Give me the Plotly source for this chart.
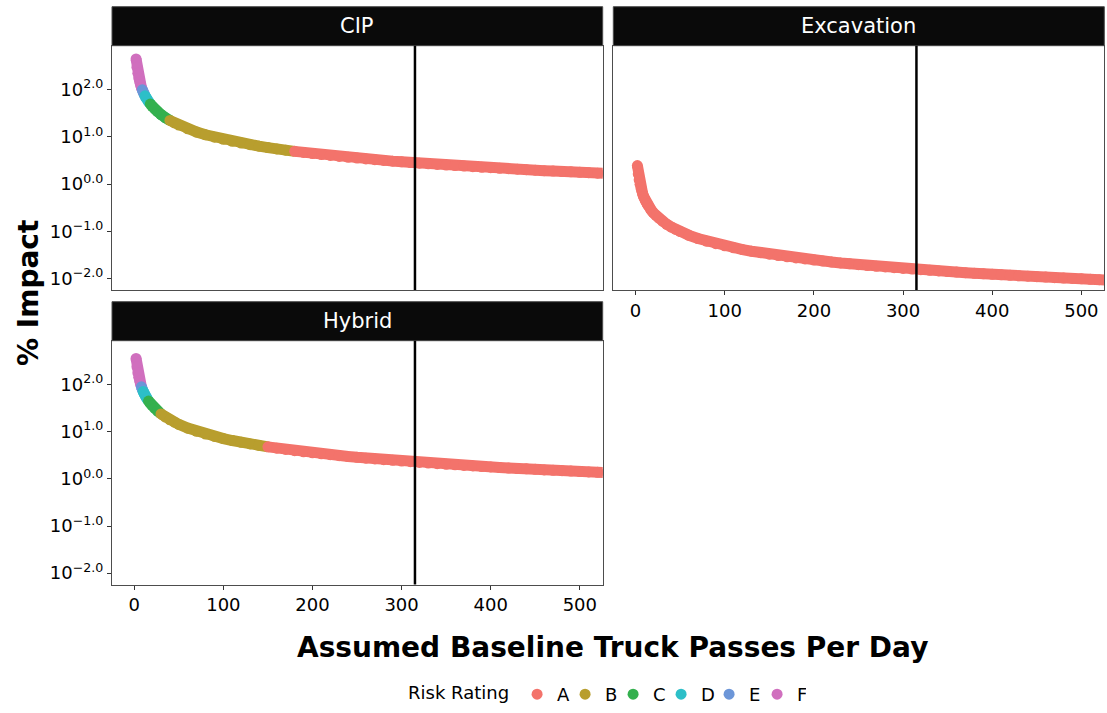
import plotly.graph_objects as go

# ---------------- data ----------------
truck_passes = [2, 3, 4, 5, 6, 7, 8, 9, 10, 11, 12, 13, 14,
                16, 18, 20, 23, 26, 30, 35, 40, 45, 50,
                60, 70, 80, 90, 100, 110, 120, 130, 140, 150,
                160, 170, 180, 190, 200, 210, 220, 230, 240, 250,
                260, 270, 280, 290, 300, 310, 320, 330, 340, 350,
                360, 370, 380, 390, 400, 410, 420, 430, 440, 450,
                460, 470, 480, 490, 500, 510, 520, 530]

cip_impact = [445, 297, 222.5, 178, 148.3, 127.1, 111.3, 98.9, 89, 80.9, 74.2, 68.5, 63.6,
              55.6, 49.4, 44.5, 38.7, 34.2, 29.7, 25.4, 22.3, 19.8, 17.8,
              14.8, 12.7, 11.1, 9.89, 8.9, 8.09, 7.42, 6.85, 6.36, 5.93,
              5.56, 5.24, 4.94, 4.68, 4.45, 4.24, 4.05, 3.87, 3.71, 3.56,
              3.42, 3.30, 3.18, 3.07, 2.97, 2.87, 2.78, 2.70, 2.62, 2.54,
              2.47, 2.41, 2.34, 2.28, 2.23, 2.17, 2.12, 2.07, 2.02, 1.98,
              1.93, 1.89, 1.85, 1.82, 1.78, 1.75, 1.71, 1.68]
cip_rating = ["F"] * 7 + ["E"] * 3 + ["D"] * 4 + ["C"] * 6 + ["B"] * 15 + ["A"] * 36

exc_impact = [2.475, 1.65, 1.2375, 0.99, 0.825, 0.707, 0.619, 0.55, 0.495, 0.45, 0.4125, 0.381, 0.354,
              0.309, 0.275, 0.2475, 0.215, 0.190, 0.165, 0.141, 0.124, 0.110, 0.099,
              0.0825, 0.0707, 0.0619, 0.055, 0.0495, 0.045, 0.0413, 0.0381, 0.0354, 0.033,
              0.0309, 0.0291, 0.0275, 0.0261, 0.0248, 0.0236, 0.0225, 0.0215, 0.0206, 0.0198,
              0.0190, 0.0183, 0.0177, 0.0171, 0.0165, 0.0160, 0.0155, 0.0150, 0.0146, 0.0141,
              0.0138, 0.0134, 0.0130, 0.0127, 0.0124, 0.0121, 0.0118, 0.0115, 0.0113, 0.0110,
              0.0108, 0.0105, 0.0103, 0.0101, 0.0099, 0.0097, 0.0095, 0.0093]
exc_rating = ["A"] * 71

hyb_impact = [357.5, 238.3, 178.8, 143, 119.2, 102.1, 89.4, 79.4, 71.5, 65, 59.6, 55, 51.1,
              44.7, 39.7, 35.75, 31.1, 27.5, 23.8, 20.4, 17.9, 15.9, 14.3,
              11.9, 10.2, 8.94, 7.94, 7.15, 6.5, 5.96, 5.5, 5.11, 4.77,
              4.47, 4.21, 3.97, 3.76, 3.58, 3.40, 3.25, 3.11, 2.98, 2.86,
              2.75, 2.65, 2.55, 2.47, 2.38, 2.31, 2.23, 2.17, 2.10, 2.04,
              1.99, 1.93, 1.88, 1.83, 1.79, 1.74, 1.70, 1.66, 1.63, 1.59,
              1.55, 1.52, 1.49, 1.46, 1.43, 1.40, 1.375, 1.35]
hyb_rating = ["F"] * 6 + ["E"] * 2 + ["D"] * 5 + ["C"] * 5 + ["B"] * 14 + ["A"] * 39

panel_names = ["CIP", "Excavation", "Hybrid"]
reference_passes = 315
rating_levels = ["A", "B", "C", "D", "E", "F"]
rating_colors = {"A": "#F3736B", "B": "#B89E2E", "C": "#34B04E", "D": "#2DBFC8",
                 "E": "#6C96D8", "F": "#D06FBE"}
y_tick_vals = [0.01, 0.1, 1, 10, 100]
y_tick_text = ["10<sup>−2.0</sup>", "10<sup>−1.0</sup>", "10<sup>0.0</sup>",
               "10<sup>1.0</sup>", "10<sup>2.0</sup>"]
x_tick_vals = [0, 100, 200, 300, 400, 500]

# ---------------- figure ----------------
W, H = 1107, 713
fig = go.Figure()

panels = [
    (cip_impact, cip_rating, "x", "y"),
    (exc_impact, exc_rating, "x2", "y2"),
    (hyb_impact, hyb_rating, "x3", "y3"),
]
MS = 11
for pi, (vals, rats, xa, ya) in enumerate(panels):
    for r in ["F", "E", "D", "C", "B", "A"]:
        idx = [i for i, rr in enumerate(rats) if rr == r]
        if not idx:
            continue
        line_idx = idx + ([idx[-1] + 1] if idx[-1] + 1 < len(rats) else [])
        fig.add_trace(go.Scatter(
            x=[truck_passes[i] for i in line_idx], y=[vals[i] for i in line_idx],
            mode="lines", line=dict(color=rating_colors[r], width=MS),
            xaxis=xa, yaxis=ya, showlegend=False, hoverinfo="skip"))
        fig.add_trace(go.Scatter(
            x=[truck_passes[i] for i in idx], y=[vals[i] for i in idx],
            mode="markers", marker=dict(color=rating_colors[r], size=MS, line=dict(width=0)),
            xaxis=xa, yaxis=ya, name=r, legendgroup=r,
            legendrank=rating_levels.index(r) + 1,
            showlegend=(pi == 0)))

def px_x(p):
    return p / W

def px_y(p):
    return (H - p) / H

left_x = [px_x(112), px_x(602.7)]
right_x = [px_x(613.3), px_x(1104.3)]
top_y = [px_y(290), px_y(45.7)]
bot_y = [px_y(584.5), px_y(340.7)]

yrange = [-2.24, 2.93]
xrange_ = [-25, 525.7]
axis_common = dict(showline=True, mirror=True, linecolor="#4d4d4d", linewidth=1.2,
                   showgrid=False, zeroline=False, ticks="outside", ticklen=4,
                   tickcolor="#333333", tickwidth=1,
                   tickfont=dict(family="DejaVu Sans", size=18, color="black"))

fig.update_layout(
    xaxis=dict(domain=left_x, range=xrange_, anchor="y", **{**axis_common, "ticks": ""},
               showticklabels=False),
    yaxis=dict(domain=top_y, type="log", range=yrange, anchor="x",
               tickvals=y_tick_vals, ticktext=y_tick_text, **axis_common),
    xaxis2=dict(domain=right_x, range=xrange_, anchor="y2", tickvals=x_tick_vals,
                **axis_common),
    yaxis2=dict(domain=top_y, type="log", range=yrange, anchor="x2",
                showticklabels=False, **{**axis_common, "ticks": ""}),
    xaxis3=dict(domain=left_x, range=xrange_, anchor="y3", tickvals=x_tick_vals,
                **axis_common),
    yaxis3=dict(domain=bot_y, type="log", range=yrange, anchor="x3",
                tickvals=y_tick_vals, ticktext=y_tick_text, **axis_common),
)

strips = [
    (left_x, [px_y(45.7), px_y(6.7)], panel_names[0]),
    (right_x, [px_y(45.7), px_y(6.7)], panel_names[1]),
    (left_x, [px_y(340.7), px_y(301.7)], panel_names[2]),
]
shapes = []
annotations = []
for (xd, yd, label) in strips:
    shapes.append(dict(type="rect", xref="paper", yref="paper", x0=xd[0], x1=xd[1],
                       y0=yd[0], y1=yd[1], fillcolor="#0a0a0a",
                       line=dict(color="#4d4d4d", width=1), layer="above"))
    annotations.append(dict(text=label, xref="paper", yref="paper",
                            x=(xd[0] + xd[1]) / 2, y=(yd[0] + yd[1]) / 2,
                            showarrow=False, xanchor="center", yanchor="middle",
                            font=dict(family="DejaVu Sans", size=21, color="white")))

for xa, ya in [("x", "y"), ("x2", "y2"), ("x3", "y3")]:
    shapes.append(dict(type="line", xref=xa, yref=ya + " domain",
                       x0=reference_passes, x1=reference_passes, y0=0, y1=1,
                       line=dict(color="black", width=2.5)))

annotations.append(dict(text="<b>% Impact</b>", xref="paper", yref="paper",
                        x=px_x(28), y=px_y(293), textangle=-90, showarrow=False,
                        xanchor="center", yanchor="middle",
                        font=dict(family="DejaVu Sans", size=28, color="black")))
annotations.append(dict(text="<b>Assumed Baseline Truck Passes Per Day</b>",
                        xref="paper", yref="paper", x=px_x(612), y=px_y(647),
                        showarrow=False, xanchor="center", yanchor="middle",
                        font=dict(family="DejaVu Sans", size=28, color="black")))

fig.update_layout(
    width=W, height=H, margin=dict(l=0, r=0, t=0, b=0),
    plot_bgcolor="white", paper_bgcolor="white",
    font=dict(family="DejaVu Sans", color="black"),
    shapes=shapes, annotations=annotations,
    legend=dict(orientation="h", x=px_x(406), y=0, xanchor="left",
                yanchor="bottom", title=dict(text="Risk Rating", side="left",
                                             font=dict(size=18)),
                font=dict(family="DejaVu Sans", size=18, color="black"),
                itemwidth=30, entrywidth=3, entrywidthmode="pixels",
                tracegroupgap=0, bgcolor="rgba(0,0,0,0)"),
)

fig.write_html("out.html", config={"displayModeBar": False},
               post_script="document.body.style.margin='0px';")
